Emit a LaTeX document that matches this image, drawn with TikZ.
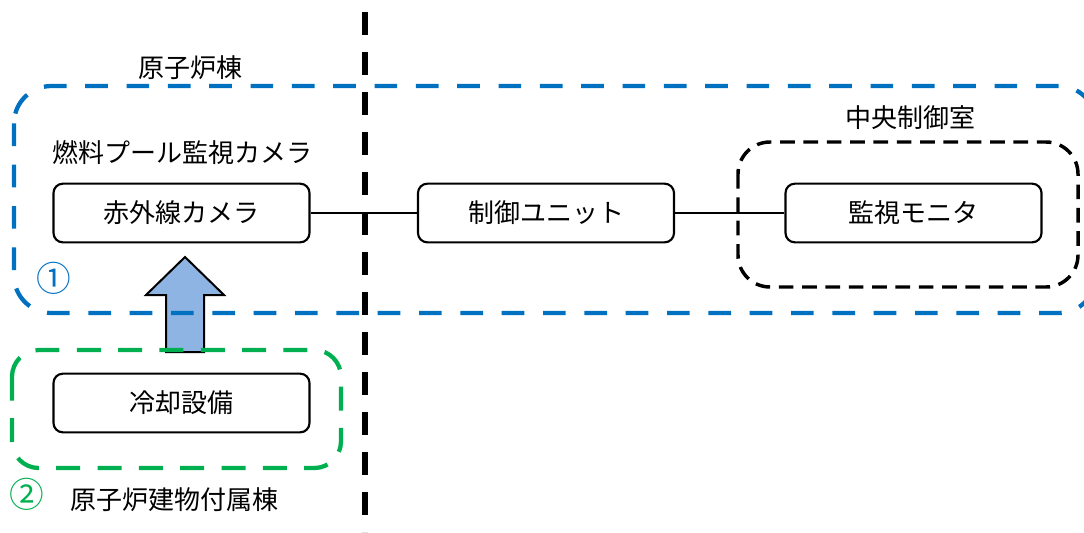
\documentclass[tikz,border=0pt]{standalone}
\usepackage{fontspec}
\setmainfont{Noto Sans CJK JP}
\usetikzlibrary{arrows.meta}
\definecolor{zoneblue}{HTML}{0070C0}
\definecolor{zonegreen}{HTML}{00B050}
\definecolor{arrowfill}{HTML}{8EB4E3}
\tikzset{
  unit/.style={draw=black, line width=1.6pt, rounded corners=7pt, minimum width=192pt, minimum height=44pt, inner sep=0pt, font=\fontsize{19.5}{22}\selectfont},
  lbl/.style={inner sep=0pt, font=\fontsize{19.5}{22}\selectfont},
  numlbl/.style={inner sep=0pt, font=\fontsize{26}{28}\selectfont},
  wire/.style={line width=1.3pt},
}
\begin{document}
\begin{tikzpicture}[x=0.75pt, y=-0.75pt]
\useasboundingbox (0,0) rectangle (1084,532);
\clip (0,0) rectangle (1084,532);
% building divider
\draw[line width=3.8pt, dash pattern=on 17pt off 13pt] (365,12) -- (365,532);
% cooling arrow
\draw[line width=1.5pt, fill=arrowfill, line join=miter]
  (166,352) -- (166,295) -- (146,295) -- (185,257) -- (224,295) -- (204,295) -- (204,352) -- cycle;
% zones
\draw[zoneblue, line width=3.2pt, dash pattern=on 17pt off 14pt, rounded corners=28pt]
  (14,86) rectangle (1096,313);
\draw[zonegreen, line width=3.2pt, dash pattern=on 18pt off 13pt, rounded corners=20pt]
  (12,350) rectangle (341,468);
\draw[black, line width=2.6pt, dash pattern=on 11pt off 6.5pt, rounded corners=24pt]
  (738,142) rectangle (1078,287);
% units
\node[unit] (cam) at (181.5,213) {赤外線カメラ};
\node[unit] (ctl) at (546,213) {制御ユニット};
\node[unit] (mon) at (913.5,213) {監視モニタ};
\node[unit, fill=white] (cool) at (181.5,403) {冷却設備};
\draw[wire] (cam) -- (ctl);
\draw[wire] (ctl) -- (mon);
% labels
\node[lbl] (rb) at (190,68) {原子炉棟};
\node[lbl] (fpc) at (182,153) {燃料プール監視カメラ};
\node[lbl] (ccr) at (910,118) {中央制御室};
\node[lbl] (rba) at (174,500) {原子炉建物付属棟};
\node[numlbl, text=zoneblue] (n1) at (54,278) {①};
\node[numlbl, text=zonegreen] (n2) at (27,494) {②};
\end{tikzpicture}
\end{document}
